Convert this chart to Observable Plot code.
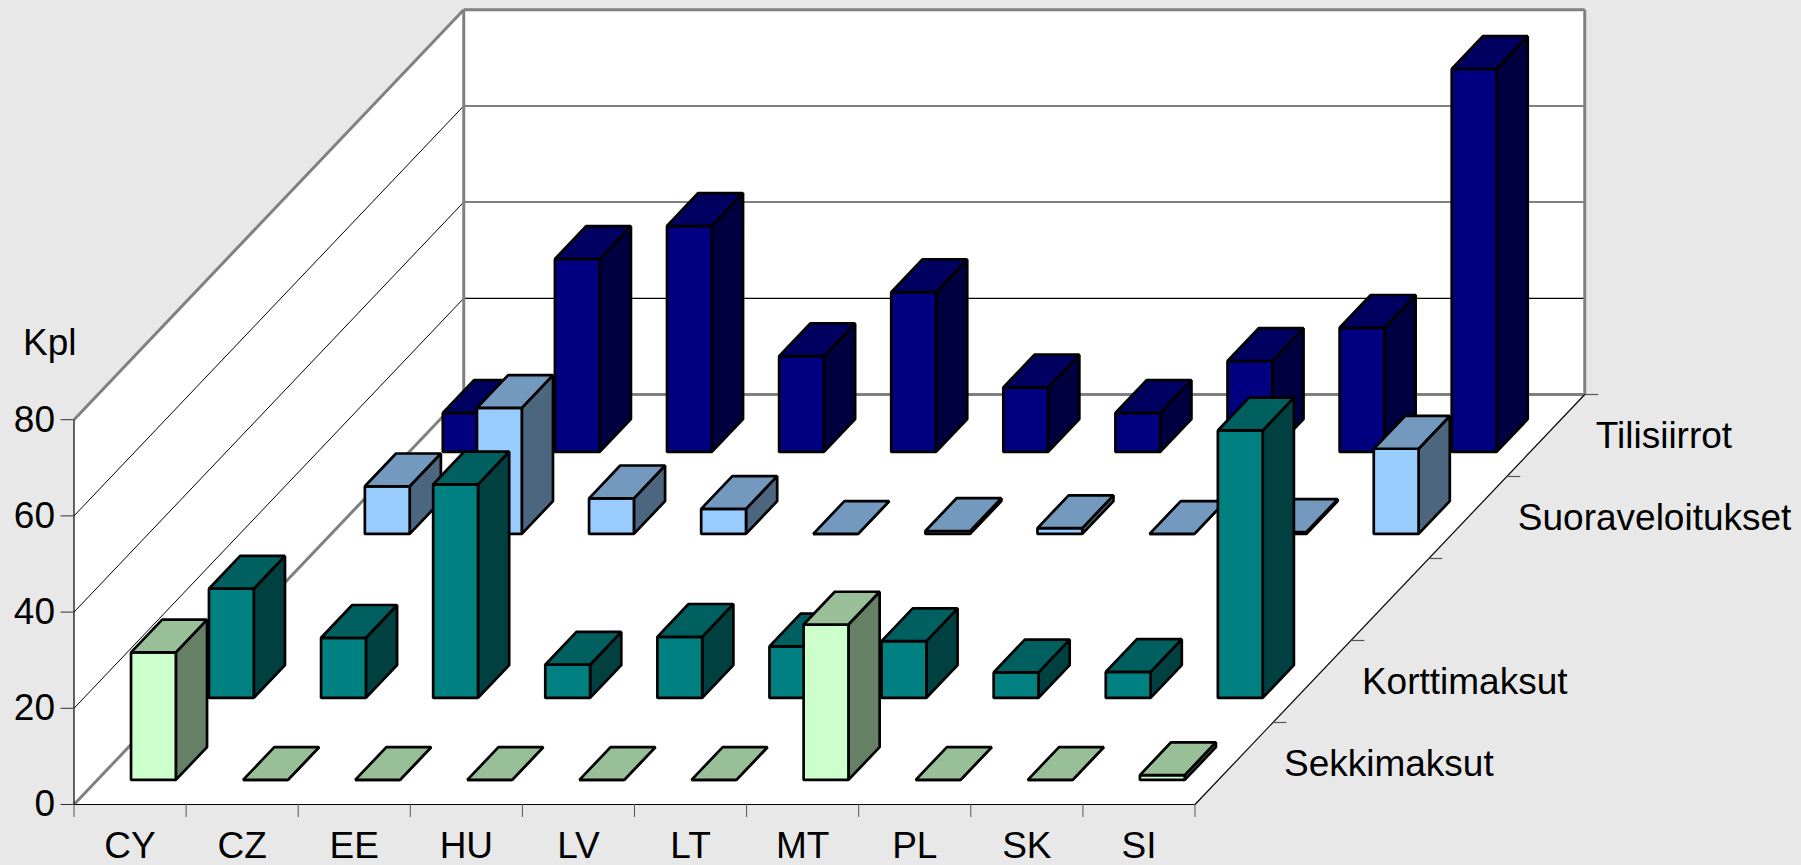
<!DOCTYPE html>
<html>
<head>
<meta charset="utf-8">
<script src="https://cdn.jsdelivr.net/npm/d3@7"></script>
<script src="https://cdn.jsdelivr.net/npm/@observablehq/plot@0.6"></script>
<style>
html,body{margin:0;padding:0;background:#e8e8e8;overflow:hidden}
svg{display:block}
</style>
</head>
<body>
<div id="chart"></div>
<script>
// Data
const categories = ["CY","CZ","EE","HU","LV","LT","MT","PL","SK","SI"];
const rowNames = ["Sekkimaksut","Korttimaksut","","Suoraveloitukset","Tilisiirrot"];
const sekkimaksut = [26.5,0,0,0,0,0,32.3,0,0,1];
const korttimaksut = [22.7,12.5,44.4,6.9,12.7,10.7,11.8,5.3,5.4,55.6];
const suoraveloitukset = [9.9,26.2,7.4,5.2,0,0.6,1.2,0,0.4,17.7];
const tilisiirrot = [8.1,40.1,47.0,19.9,33.2,13.4,8.1,18.9,25.8,79.6];
const yTicks = [0,20,40,60,80];

// Styles
const palette = {
  0:{front:"#ccffcc",top:"#99bf99",side:"#668066"},
  1:{front:"#008080",top:"#006060",side:"#004040"},
  3:{front:"#99ccff",top:"#7399bf",side:"#4d6680"},
  4:{front:"#000080",top:"#000060",side:"#000040"}
};
const series = [
  {row:4,values:tilisiirrot},
  {row:3,values:suoraveloitukset},
  {row:1,values:korttimaksut},
  {row:0,values:sekkimaksut}
];

// Oblique projection: one depth row shifts x (in categories) and y (in value units)
const W = 1801, H = 865, ML = 73.5, MB = 61;
const pxPerCat = 112.1, pxPerUnit = 4.81;
const shearX = 77.95/pxPerCat, shearY = 82/pxPerUnit;
const nCat = categories.length, nRow = rowNames.length, yMax = 80;
const P = (c,r,v) => ({x:c+r*shearX, y:v+r*shearY});

const poly = (id,fill,pts) => pts.map(([c,r,v]) => ({...P(c,r,v),id,fill}));

// Walls
const walls = [
  ...poly("floor","#fff",[[0,0,0],[nCat,0,0],[nCat,nRow,0],[0,nRow,0]]),
  ...poly("left","#fff",[[0,0,0],[0,nRow,0],[0,nRow,yMax],[0,0,yMax]]),
  ...poly("back","#fff",[[0,nRow,0],[nCat,nRow,0],[nCat,nRow,yMax],[0,nRow,yMax]])
];

// Bars, painted back to front
const barW = 0.4, barOff = 0.3, depW = 0.4, depOff = 0.3;
const faces = [];
for (const {row,values} of series) {
  const col = palette[row];
  values.forEach((v,i) => {
    const c0=i+barOff, c1=c0+barW, r0=row+depOff, r1=r0+depW, id=`${row}-${i}`;
    faces.push(...poly(id+"s",col.side,[[c1,r0,0],[c1,r1,0],[c1,r1,v],[c1,r0,v]]));
    faces.push(...poly(id+"f",col.front,[[c0,r0,0],[c1,r0,0],[c1,r0,v],[c0,r0,v]]));
    faces.push(...poly(id+"t",col.top,[[c0,r0,v],[c1,r0,v],[c1,r1,v],[c0,r1,v]]));
  });
}

const seg = (a,b) => ({x1:a.x,y1:a.y,x2:b.x,y2:b.y});
const gridVals = yTicks.slice(1,-1);
const gridLeft = gridVals.map(v => seg(P(0,0,v),P(0,nRow,v)));
const grayBack = [60,40].map(v => seg(P(0,nRow,v),P(nCat,nRow,v)));
const blackBack = [20].map(v => seg(P(0,nRow,v),P(nCat,nRow,v)));
const frameGray = [
  seg(P(0,0,0),P(0,nRow,0)),
  seg(P(0,0,yMax),P(0,nRow,yMax)),
  seg(P(0,nRow,0),P(0,nRow,yMax)),
  seg(P(0,nRow,yMax),P(nCat,nRow,yMax)),
  seg(P(nCat,nRow,yMax),P(nCat,nRow,0)),
  seg(P(0,nRow,0),P(nCat,nRow,0))
];
const frameBlack = [
  seg(P(0,0,0),P(nCat,0,0)),
  seg(P(0,0,0),P(0,0,yMax)),
  seg(P(nCat,0,0),P(nCat,nRow,0))
];
const rowTicks = d3.range(1,nRow+1).map(r => seg(P(nCat,r,0),{x:P(nCat,r,0).x+0.12,y:P(nCat,r,0).y}));
const rowLabels = rowNames.map((name,r) => ({name,...P(nCat,r+0.5,0)})).filter(d=>d.name);

const link = (data,o) => Plot.link(data,{x1:"x1",y1:"y1",x2:"x2",y2:"y2",markerEnd:"none",...o});
const fontSize = 37;

const chart = Plot.plot({
  width:W,height:H,marginLeft:ML,marginBottom:MB,marginTop:0,marginRight:0,
  style:{background:"transparent",fontFamily:"'Liberation Sans',Arial,sans-serif",color:"#000"},
  x:{domain:[0,(W-ML)/pxPerCat]},
  y:{domain:[0,(H-MB)/pxPerUnit]},
  color:{type:"identity"},
  marks:[
    Plot.line(walls,{x:"x",y:"y",z:"id",fill:"fill",stroke:"none",curve:"linear-closed"}),
    link(gridLeft,{stroke:"#000",strokeWidth:1}),
    link(blackBack,{stroke:"#000",strokeWidth:1.3}),
    link(grayBack,{stroke:"#808080",strokeWidth:2}),
    link(frameGray,{stroke:"#808080",strokeWidth:3}),
    link(frameBlack,{stroke:"#000",strokeWidth:1.2}),
    link(rowTicks,{stroke:"#555",strokeWidth:1.2}),
    Plot.axisY({ticks:yTicks,tickSize:13,tickPadding:6,fontSize,label:null,stroke:"#333"}),
    Plot.axisX({ticks:d3.range(0,nCat+1),tickSize:13,tickFormat:()=>"",label:null,stroke:"#555"}),
    Plot.axisX({ticks:d3.range(0,nCat).map(i=>i+0.5),tickSize:0,tickPadding:27,fontSize,label:null,
      tickFormat:d=>categories[Math.floor(d)]}),
    Plot.line(faces,{x:"x",y:"y",z:"id",fill:"fill",stroke:"#000",strokeWidth:2.7,strokeLinejoin:"miter",curve:"linear-closed"}),
    Plot.text(rowLabels,{x:"x",y:"y",text:"name",dx:50,dy:1,textAnchor:"start",fontSize,fill:"#000"}),
    Plot.text(["Kpl"],{x:[0],y:[yMax+16],text:d=>d,dx:-51,textAnchor:"start",fontSize,fill:"#000"})
  ]
});
document.getElementById("chart").appendChild(chart);
</script>
</body>
</html>
